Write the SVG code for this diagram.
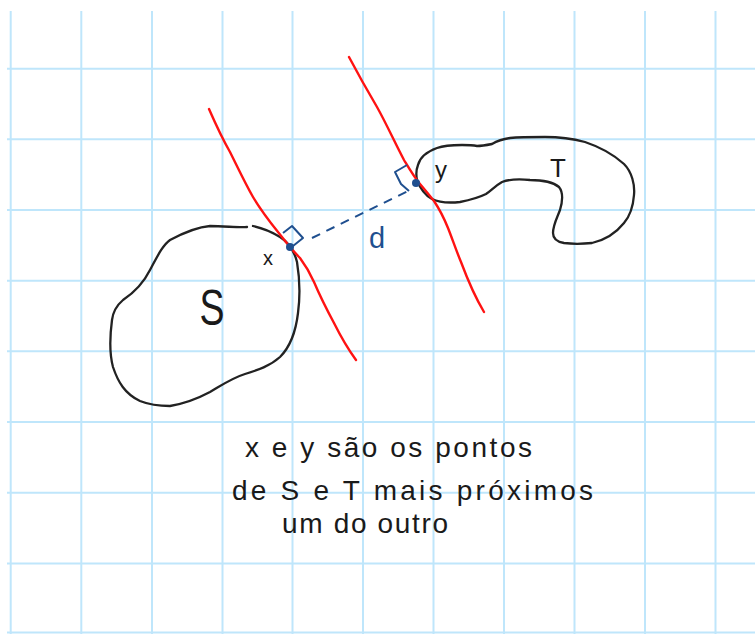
<svg xmlns="http://www.w3.org/2000/svg" width="755" height="634" viewBox="0 0 755 634">
<style>
.grid line{stroke:#bfe6fb;stroke-width:2}
.outline{fill:none;stroke:#222;stroke-width:2.3;stroke-linejoin:round;stroke-linecap:round}
.tangent{fill:none;stroke:#ff1212;stroke-width:2.4;stroke-linecap:round}
.blue{fill:none;stroke:#1f4f8f;stroke-width:2;stroke-linejoin:round}
.hand{font-family:"Liberation Sans","DejaVu Sans",sans-serif;fill:#1a1a1a}
.bluetxt{font-family:"Liberation Sans","DejaVu Sans",sans-serif;fill:#1f4f8f}
</style>
<rect width="755" height="634" fill="#fff"/>
<g id="grid" class="grid">
<line x1="10.7" y1="11" x2="10.7" y2="634"/>
<line x1="81.3" y1="11" x2="81.3" y2="634"/>
<line x1="152" y1="11" x2="152" y2="634"/>
<line x1="222.5" y1="11" x2="222.5" y2="634"/>
<line x1="292.5" y1="11" x2="292.5" y2="634"/>
<line x1="363" y1="11" x2="363" y2="634"/>
<line x1="433.5" y1="11" x2="433.5" y2="634"/>
<line x1="504" y1="11" x2="504" y2="634"/>
<line x1="574.5" y1="11" x2="574.5" y2="634"/>
<line x1="645" y1="11" x2="645" y2="634"/>
<line x1="715.5" y1="11" x2="715.5" y2="634"/>
<line x1="7" y1="68.7" x2="755" y2="68.7"/>
<line x1="7" y1="139.3" x2="755" y2="139.3"/>
<line x1="7" y1="210" x2="755" y2="210"/>
<line x1="7" y1="280.7" x2="755" y2="280.7"/>
<line x1="7" y1="351.3" x2="755" y2="351.3"/>
<line x1="7" y1="422" x2="755" y2="422"/>
<line x1="7" y1="492.7" x2="755" y2="492.7"/>
<line x1="7" y1="563.5" x2="755" y2="563.5"/>
<line x1="7" y1="632.5" x2="755" y2="632.5"/>
</g>
<g id="S">
<path class="outline" d="M247,227 C240,228 225,226 210,226 C198,227 185,232 170,240 C163,245 158,255 150,270 C145,280 138,290 123,300 C116,306 113,312 112,320 C110,335 109,352 113,367 C118,382 125,394 140,401 C150,405 160,406 170,406 C182,404 195,400 210,392 C222,385 232,378 245,374 C258,370 270,366 280,357 C290,347 296,330 298,313 C300,298 300,280 297,262 C294,250 288,242 280,237 C272,232 262,228 253,226"/>
<text class="hand" x="212" y="325" font-size="50" text-anchor="middle" textLength="25" lengthAdjust="spacingAndGlyphs">S</text>
</g>
<g id="T">
<path class="outline" d="M417,180 C416,175 416,170 418,165 C420,157 426,152 437,148 C445,145 455,145 462,145 C467,145 472,145 477,146 C482,146 487,145 492,144 C497,141 503,139 510,138 C520,137 530,137 545,137 C560,137 570,138 585,142 C600,147 613,154 624,164 C632,172 635,185 634,195 C633,208 630,216 624,223 C616,233 605,240 592,243 C582,244 572,244 564,243 C558,242 553,239 553,233 C553,225 557,218 560,210 C563,200 563,192 559,187 C553,182 543,180 530,180 C520,179 510,179 502,182 C495,186 492,190 486,194 C480,197 470,200 460,202 C450,203 440,203 432,199 C425,195 420,188 417,180 Z"/>
<text class="hand" x="558" y="177" font-size="26" text-anchor="middle">T</text>
</g>
<g id="tangents">
<path class="tangent" d="M209,109 C216,125 222,138 230,152 C238,168 245,183 253,197 C262,212 270,222 278,232 C285,241 292,250 300,258 C306,266 310,273 314,282 C320,296 327,310 334,323 C341,337 348,349 356,360"/>
<path class="tangent" d="M349,57 C358,74 367,90 377,107 C386,123 395,143 404,160 C410,170 414,177 420,184 C426,191 430,196 434,201 C440,210 444,218 448,228 C452,238 456,250 461,262 C467,278 475,297 484,312"/>
</g>
<g id="distance">
<line class="blue" x1="312" y1="238" x2="408" y2="191" stroke-dasharray="9 7" stroke-width="1.6"/>
<polyline class="blue" points="283,233 292,226 303,238 293,246"/>
<polyline class="blue" points="407,165 395,172 401,184 409,191"/>
<circle cx="290" cy="247" r="4" fill="#1f4f8f"/>
<circle cx="416" cy="183" r="4" fill="#1f4f8f"/>
<text class="bluetxt" x="377" y="248" font-size="29" text-anchor="middle">d</text>
</g>
<g id="labels">
<text class="hand" x="268" y="265" font-size="20" text-anchor="middle">x</text>
<text class="hand" x="441" y="178" font-size="24" text-anchor="middle">y</text>
</g>
<g id="caption" class="hand" font-size="28">
<text x="245" y="457" textLength="287" lengthAdjust="spacing">x e y são os pontos</text>
<text x="232" y="500" textLength="361" lengthAdjust="spacing">de S e T mais próximos</text>
<text x="282" y="533" textLength="166" lengthAdjust="spacing">um do outro</text>
</g>
</svg>
